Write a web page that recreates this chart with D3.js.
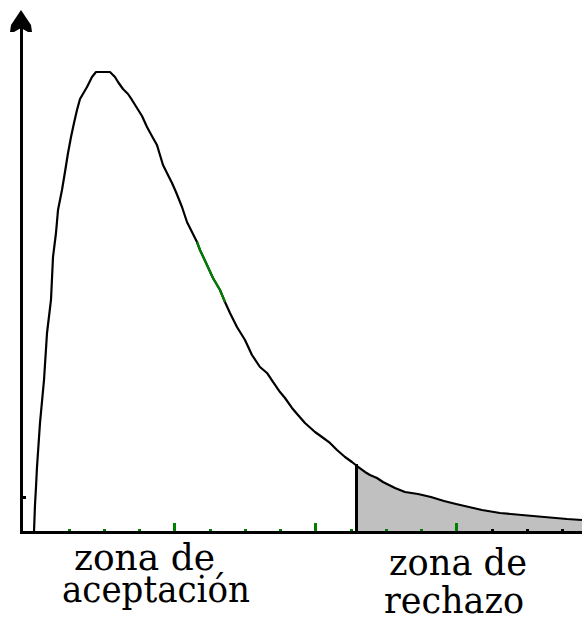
<!DOCTYPE html>
<html>
<head>
<meta charset="utf-8">
<script src="https://cdn.jsdelivr.net/npm/d3@7"></script>
<style>
  html, body { margin: 0; padding: 0; background: #fff; }
  svg { display: block; }
</style>
</head>
<body>
<div id="chart"></div>
<script>
// Density curve, sampled along the horizontal axis (x in tick units, y in relative height)
const curveX = [0, 0.028, 0.057, 0.085, 0.170, 0.284, 0.369, 0.482, 0.539, 0.624, 0.681, 0.794, 0.879,
  0.965, 1.050, 1.135, 1.220, 1.305, 1.504, 1.645, 1.759, 1.957, 2.156, 2.298, 2.383, 2.525, 2.667,
  2.780, 2.922, 3.064, 3.206, 3.376, 3.489, 3.574, 3.660, 3.801, 3.915, 4.028, 4.199, 4.340, 4.482,
  4.624, 4.709, 4.908, 5.078, 5.277, 5.418, 5.560, 5.759, 5.986, 6.184, 6.411, 6.610, 6.780, 6.979,
  7.121, 7.319, 7.489, 7.688, 7.972, 8.170, 8.397, 8.596, 8.823, 9.021, 9.163, 9.390, 9.532, 9.730,
  9.901, 10.071, 10.241, 10.525, 10.894, 11.262, 11.631, 11.972, 12.340, 12.709, 13.220, 14.156,
  15.121, 15.546];
const curveY = [0, 5.19, 8.65, 12.50, 20.96, 29.23, 38.27, 44.62, 52.88, 57.50, 61.92, 65.77, 69.23,
  72.88, 75.96, 78.65, 81.15, 83.27, 85.58, 87.50, 88.46, 88.46, 88.46, 87.50, 86.54, 85.19, 84.23,
  83.08, 81.54, 80.00, 77.88, 75.77, 74.42, 72.50, 70.58, 68.65, 67.12, 65.38, 62.50, 59.62, 57.69,
  55.77, 54.23, 51.35, 48.85, 46.54, 44.23, 42.12, 39.42, 36.92, 34.04, 31.73, 30.58, 28.85, 26.92,
  25.77, 23.85, 22.50, 20.96, 19.23, 18.27, 17.12, 15.77, 14.42, 13.46, 12.69, 11.54, 10.96, 10.38,
  9.62, 9.04, 8.46, 7.69, 7.31, 6.73, 5.96, 5.38, 4.81, 4.23, 3.65, 3.08, 2.50, 2.31];

// Critical value: start of the rejection region
const criticalX = 9.163;
// Stretch of the curve drawn in green
const greenFrom = 4.62, greenTo = 5.44;

// Ticks on the horizontal axis
const tickValues = [1, 2, 3, 4, 5, 6, 7, 8, 9, 10, 11, 12, 13, 14, 15];
const majorTicks = [4, 8, 12];
const greenTickMax = 12;
// Lone tick on the vertical axis
const yTickValues = [6.73];

// Region labels
const acceptLines = ["zona de", "aceptación"];
const rejectLines = ["zona de", "rechazo"];

const W = 582, H = 621;
const svg = d3.select("#chart").append("svg")
  .attr("width", W).attr("height", H)
  .style("background", "#fff");

const x = d3.scaleLinear().domain([0, 15.55]).range([34, 582.1]);
const y = d3.scaleLinear().domain([0, 100]).range([532, 12]);

const pts = curveX.map((v, i) => ({ x: v, y: curveY[i] }));

// Shaded rejection region
const tail = pts.filter(d => d.x >= criticalX);
svg.append("path")
  .datum(tail)
  .attr("fill", "#c0c0c0")
  .attr("d", d3.area().x(d => x(d.x)).y0(y(0)).y1(d => y(d.y)));

// Boundary of the rejection region
const critY = curveY[curveX.indexOf(criticalX)];
svg.append("line")
  .attr("x1", x(criticalX)).attr("x2", x(criticalX))
  .attr("y1", y(critY) - 2).attr("y2", y(0))
  .attr("stroke", "#000").attr("stroke-width", 3)
  .attr("shape-rendering", "crispEdges");

// Ticks along the horizontal axis
svg.append("g").selectAll("rect")
  .data(tickValues)
  .join("rect")
  .attr("x", d => x(d) - 1.5)
  .attr("width", 3)
  .attr("y", d => y(0) - (majorTicks.includes(d) ? 9 : 3))
  .attr("height", d => (majorTicks.includes(d) ? 9 : 3))
  .attr("fill", d => d <= greenTickMax ? "#008000" : "#000")
  .attr("shape-rendering", "crispEdges");

// Ticks on the vertical axis
svg.append("g").selectAll("rect")
  .data(yTickValues)
  .join("rect")
  .attr("x", 22).attr("width", 4)
  .attr("y", d => y(d) - 1).attr("height", 2.5)
  .attr("fill", "#000")
  .attr("shape-rendering", "crispEdges");

// Curve
const line = d3.line().x(d => x(d.x)).y(d => y(d.y));
svg.append("path")
  .datum(pts)
  .attr("fill", "none")
  .attr("stroke", "#000")
  .attr("stroke-width", 2.2)
  .attr("stroke-linejoin", "round")
  .attr("d", line);

svg.append("path")
  .datum(pts.filter(d => d.x >= greenFrom && d.x <= greenTo))
  .attr("fill", "none")
  .attr("stroke", "#008000")
  .attr("stroke-width", 2.2)
  .attr("d", line);

// Axes
svg.append("line")
  .attr("x1", 19.5).attr("x2", W)
  .attr("y1", 532.5).attr("y2", 532.5)
  .attr("stroke", "#000").attr("stroke-width", 3)
  .attr("shape-rendering", "crispEdges");
svg.append("line")
  .attr("x1", 21).attr("x2", 21)
  .attr("y1", 26).attr("y2", 534)
  .attr("stroke", "#000").attr("stroke-width", 3)
  .attr("shape-rendering", "crispEdges");
// Arrowhead on the vertical axis
svg.append("path")
  .attr("d", "M21,10 L31,25 L32,32 L28,32 L21,28 L14,32 L10,32 L11,25 Z")
  .attr("fill", "#000");

// Two-line region labels, each one text block
const labelFont = "'DejaVu Serif', 'Liberation Serif', serif";
function label(lines, specs) {
  const t = svg.append("text")
    .attr("font-family", labelFont)
    .attr("font-size", 37)
    .attr("fill", "#000");
  lines.forEach((s, i) => {
    t.append("tspan")
      .attr("x", specs[i].x).attr("y", specs[i].y)
      .attr("textLength", specs[i].w)
      .attr("lengthAdjust", "spacingAndGlyphs")
      .text(s);
  });
}
label(acceptLines, [{ x: 74, y: 570, w: 141 }, { x: 62, y: 602, w: 188 }]);
label(rejectLines, [{ x: 389, y: 575, w: 138 }, { x: 384, y: 613, w: 140 }]);
</script>
</body>
</html>
